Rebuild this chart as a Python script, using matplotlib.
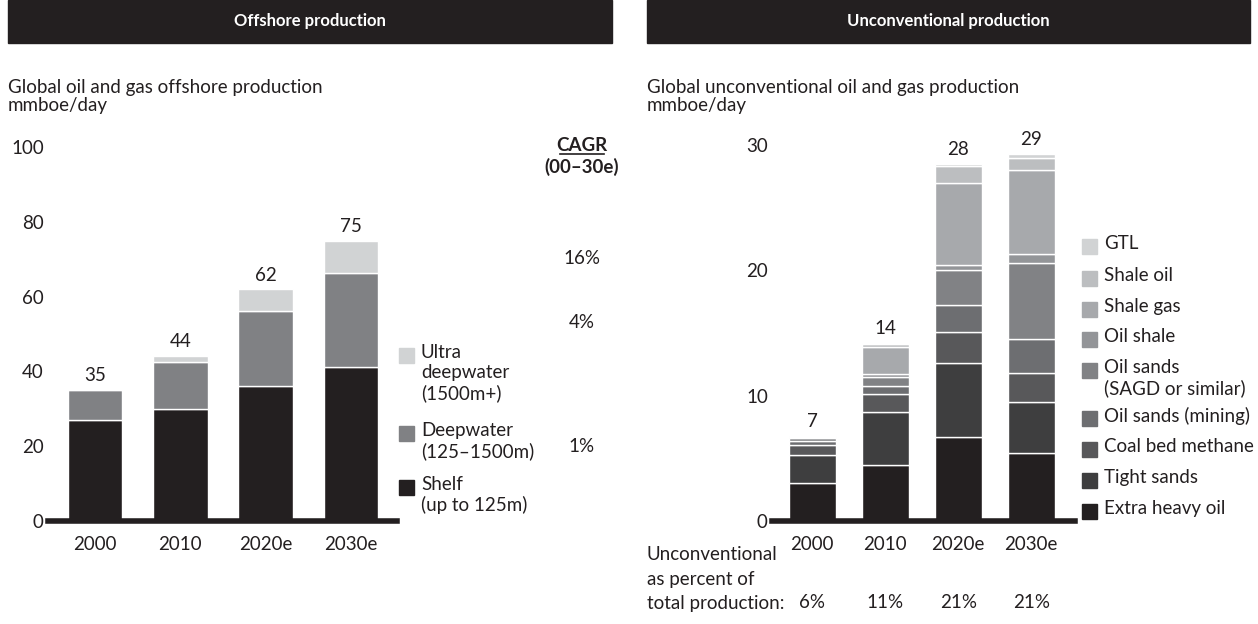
import matplotlib
matplotlib.use("Agg")
import matplotlib.pyplot as plt
import matplotlib.transforms as mtransforms
from matplotlib.patches import Rectangle
import numpy as np

plt.rcParams['font.family'] = ['Lato', 'DejaVu Sans']

# ---- data ----
years = ["2000", "2010", "2020e", "2030e"]

# offshore, mmboe/day
shelf = [27.0, 30.0, 36.1, 41.1]
deepwater = [8.1, 12.4, 20.0, 25.1]
ultra_deepwater = [0.0, 1.8, 5.8, 8.8]
offshore_totals = ["35", "44", "62", "75"]
cagr_labels = ["16%", "4%", "1%"]

# unconventional, mmboe/day
extra_heavy_oil = [3.0, 4.5, 6.7, 5.4]
tight_sands = [2.3, 4.2, 5.9, 4.1]
coal_bed_methane = [0.8, 1.4, 2.5, 2.3]
oil_sands_mining = [0.3, 0.7, 2.1, 2.7]
oil_sands_sagd = [0.2, 0.7, 2.8, 6.1]
oil_shale = [0.1, 0.2, 0.4, 0.7]
shale_gas = [0.0, 2.2, 6.6, 6.7]
shale_oil = [0.0, 0.2, 1.3, 1.0]
gtl = [0.1, 0.1, 0.2, 0.3]
unconv_totals = ["7", "14", "28", "29"]
unconv_share = ["6%", "11%", "21%", "21%"]

off_series = [shelf, deepwater, ultra_deepwater]
off_colors = ["#231f20", "#808184", "#d1d3d4"]
off_legend = ["Shelf\n(up to 125m)", "Deepwater\n(125\u20131500m)", "Ultra\ndeepwater\n(1500m+)"]

unc_series = [extra_heavy_oil, tight_sands, coal_bed_methane, oil_sands_mining,
              oil_sands_sagd, oil_shale, shale_gas, shale_oil, gtl]
unc_colors = ["#231f20", "#3e3e3f", "#58585a", "#6d6e71", "#818285",
              "#939598", "#a7a9ac", "#bcbec0", "#d1d3d4"]
unc_legend = ["Extra heavy oil", "Tight sands", "Coal bed methane", "Oil sands (mining)",
              "Oil sands\n(SAGD or similar)", "Oil shale", "Shale gas", "Shale oil", "GTL"]

W, H = 1258, 624
fig = plt.figure(figsize=(W / 100, H / 100), dpi=100)
TXT = "#231f20"
FS = 13.5


def fx(x):
    return x / W


def fy(y):
    return 1 - y / H


def stacked(ax, series, colors, totals, ymax, ticks):
    x = np.arange(len(years))
    bottom = np.zeros(len(years))
    for vals, c in zip(series, colors):
        ax.bar(x, vals, 0.64, bottom=bottom, color=c, edgecolor="white", linewidth=1.0)
        bottom += np.array(vals)
    for i, t in enumerate(totals):
        ax.annotate(t, (x[i], bottom[i]), xytext=(0, 4), textcoords="offset points",
                    ha="center", va="bottom", fontsize=FS, color=TXT)
    ax.set_ylim(0, ymax)
    ax.set_yticks(ticks)
    ax.set_xticks(x)
    ax.set_xticklabels(years)
    for s in ["top", "right", "left"]:
        ax.spines[s].set_visible(False)
    ax.spines["bottom"].set_linewidth(4)
    ax.spines["bottom"].set_color(TXT)
    ax.tick_params(axis="y", length=0, pad=3, labelsize=FS, colors=TXT)
    ax.tick_params(axis="x", length=0, pad=11, labelsize=FS, colors=TXT)


# left panel
ax1 = fig.add_axes([fx(48), fy(521), fx(397 - 48), fy(147) - fy(521)])
stacked(ax1, off_series, off_colors, offshore_totals, 100, [0, 20, 40, 60, 80, 100])
ax1.set_xlim(-0.55, 3.54)

# right panel
ax2 = fig.add_axes([fx(772), fy(521), fx(1075 - 772), fy(145) - fy(521)])
stacked(ax2, unc_series, unc_colors, unconv_totals, 30, [0, 10, 20, 30])
ax2.set_xlim(-0.55, 3.6)

# headers
for x0, x1, title in [(8, 612, "Offshore production"), (647, 1250, "Unconventional production")]:
    fig.patches.append(Rectangle((fx(x0), fy(43)), fx(x1 - x0), fy(0) - fy(43),
                                 transform=fig.transFigure, color=TXT))
    fig.text(fx((x0 + x1) / 2), fy(21), title, color="white", fontsize=12,
             fontweight="bold", ha="center", va="center")

fig.text(fx(8), fy(87), "Global oil and gas offshore production", fontsize=FS, color=TXT, va="center")
fig.text(fx(8), fy(105), "mmboe/day", fontsize=FS, color=TXT, va="center")
fig.text(fx(647), fy(87), "Global unconventional oil and gas production", fontsize=FS, color=TXT, va="center")
fig.text(fx(647), fy(105), "mmboe/day", fontsize=FS, color=TXT, va="center")

# left legend (top to bottom)
leg_y = [355, 433, 487]
for name, c, y in zip(off_legend[::-1], off_colors[::-1], leg_y):
    fig.patches.append(Rectangle((fx(399), fy(y + 8)), fx(15), fy(y - 7) - fy(y + 8),
                                 transform=fig.transFigure, color=c))
    fig.text(fx(421), fy(y - 11), name, fontsize=FS, color=TXT, va="top", linespacing=1.2)

# CAGR column
fig.text(fx(582), fy(145), "CAGR", fontsize=FS, fontweight="bold", color=TXT,
         ha="center", va="center")
fig.lines.append(plt.Line2D([fx(560), fx(604)], [fy(154), fy(154)], color=TXT, lw=1.2,
                            transform=fig.transFigure))
fig.text(fx(582), fy(167), "(00\u201330e)", fontsize=FS, fontweight="bold", color=TXT,
         ha="center", va="center")
for lab, y in zip(cagr_labels, [258, 322, 447]):
    fig.text(fx(582), fy(y), lab, fontsize=FS, color=TXT, ha="center", va="center")

# right legend (top to bottom)
r_y = [246, 278, 309, 339, 370, 418, 449, 480, 511]
for name, c, y in zip(unc_legend[::-1], unc_colors[::-1], r_y):
    fig.patches.append(Rectangle((fx(1082), fy(y + 8)), fx(15), fy(y - 7) - fy(y + 8),
                                 transform=fig.transFigure, color=c))
    fig.text(fx(1104), fy(y - 11), name, fontsize=FS, color=TXT, va="top", linespacing=1.2)

# share of total production
for i, line in enumerate(["Unconventional", "as percent of", "total production:"]):
    fig.text(fx(647), fy(555 + 24 * i), line, fontsize=FS, color=TXT, va="center")
share_tr = mtransforms.blended_transform_factory(ax2.transData, fig.transFigure)
for i, s in enumerate(unconv_share):
    ax2.text(i, fy(603), s, transform=share_tr, ha="center", va="center",
             fontsize=FS, color=TXT)

fig.savefig("out.png", dpi=100)
